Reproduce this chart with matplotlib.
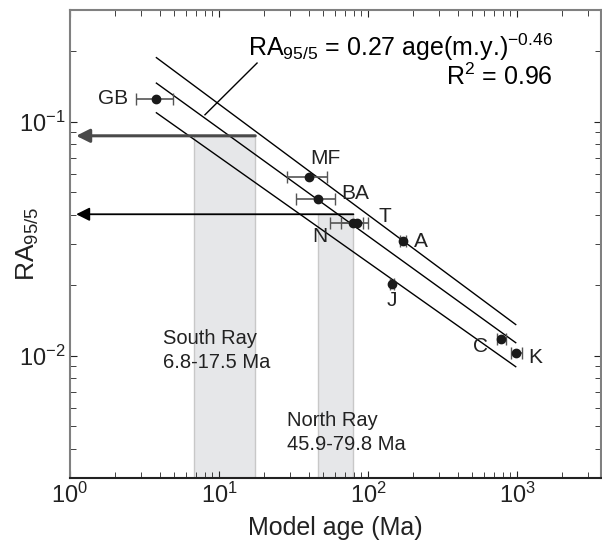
import numpy as np
import matplotlib
matplotlib.use('Agg')
import matplotlib.pyplot as plt

plt.rcParams['font.family'] = ['Liberation Sans', 'DejaVu Sans']
plt.rcParams['axes.unicode_minus'] = False
plt.rcParams['mathtext.fontset'] = 'custom'
plt.rcParams['mathtext.rm'] = 'Liberation Sans'

# sample data
names = ['GB', 'MF', 'BA', 'N', 'T', 'A', 'J', 'C', 'K']
age = [3.78, 40.4, 46.4, 79.3, 84.4, 172.6, 145, 781, 980]
age_lo = [2.77, 28.5, 32.7, 55.6, 65.9, 165, 140, 731, 907]
age_hi = [4.89, 52.8, 60.3, 92.5, 100, 180, 150, 840, 1075]
ra = [0.125, 0.0579, 0.0467, 0.037, 0.037, 0.0309, 0.0202, 0.01175, 0.01023]

# fit and bounds, RA = a * age^b
fit_range = [3.8, 980]
fit_a, fit_b = 0.27, -0.46
upper_a, upper_b = 0.353, -0.473
lower_a, lower_b = 0.199, -0.45

# crater ages (Ma) and RA level where the arrows sit
south_ray = [6.8, 17.5]
south_ra = 0.087
north_ray = [45.9, 79.8]
north_ra = 0.0402

fig = plt.figure(figsize=(6.02, 5.4), dpi=100)
ax = fig.add_axes([70 / 602, 62 / 540, 531 / 602, 468 / 540])
ax.set_xscale('log')
ax.set_yscale('log')
ax.set_xlim(1, 3660)
ax.set_ylim(0.003, 0.3)

# shaded crater age bands
band_kw = dict(facecolor='#e6e7e9', edgecolor='#c8c8c8', lw=1, zorder=0)
ax.fill_between(south_ray, 0.003, south_ra, **band_kw)
ax.fill_between(north_ray, 0.003, north_ra, **band_kw)

xs = np.logspace(np.log10(fit_range[0]), np.log10(fit_range[1]), 50)
for a, b in [(upper_a, upper_b), (fit_a, fit_b), (lower_a, lower_b)]:
    ax.plot(xs, a * xs ** b, color='black', lw=1)

# pointer from the equation to the fit line
ax.plot([18.0, 8.05], [0.178, 0.107], color='black', lw=1)

# arrows
ax.annotate('', xy=(1.1, south_ra), xytext=(south_ray[1], south_ra),
            arrowprops=dict(arrowstyle='-|>', color='#4a4a4a', lw=2.2, mutation_scale=20, shrinkA=0, shrinkB=0))
ax.annotate('', xy=(1.1, north_ra), xytext=(north_ray[1], north_ra),
            arrowprops=dict(arrowstyle='-|>', color='black', lw=1.3, mutation_scale=20, shrinkA=0, shrinkB=0))

xerr = [np.array(age) - np.array(age_lo), np.array(age_hi) - np.array(age)]
ax.errorbar(age, ra, xerr=xerr, fmt='o', color='#1a1a1a', ecolor='#555555', ms=6,
            elinewidth=1.2, capsize=4, capthick=1, zorder=3)

offsets = {'GB': (-43, 0), 'MF': (16, 19), 'BA': (37, 6), 'T': (28, 6), 'N': (-33, -14),
           'A': (18, -1), 'J': (0, -16), 'C': (-21, -7), 'K': (20, -4)}
for n, x, y in zip(names, age, ra):
    ax.annotate(n, (x, y), xytext=offsets[n], textcoords='offset pixels',
                ha='center', va='center', fontsize=15, color='#222222')

ax.text(0.91, 0.921, r'RA$_{95/5}$ = 0.27 age(m.y.)$^{-0.46}$', transform=ax.transAxes,
        ha='right', va='center', fontsize=18)
ax.text(0.91, 0.857, r'R$^2$ = 0.96', transform=ax.transAxes,
        ha='right', va='center', fontsize=18)

ax.text(4.2, 0.0105, 'South Ray\n6.8-17.5 Ma', fontsize=14.5, ha='left', va='center',
        linespacing=1.35, color='#222222')
ax.text(28.6, 0.0047, 'North Ray\n45.9-79.8 Ma', fontsize=14.5, ha='left', va='center',
        linespacing=1.35, color='#222222')

ax.set_xlabel('Model age (Ma)', fontsize=18, color='#222222', labelpad=6)
ax.set_ylabel(r'RA$_{95/5}$', fontsize=19, color='#222222')
ax.yaxis.set_label_coords(-0.055, 0.5)

for side in ['left', 'top', 'right']:
    ax.spines[side].set_color('#808080')
    ax.spines[side].set_linewidth(1.5)
ax.spines['bottom'].set_color('#222222')
ax.spines['bottom'].set_linewidth(1.5)
ax.tick_params(which='both', direction='in', top=True, right=True, labelsize=17, colors='#222222')
ax.tick_params(which='major', length=5)
ax.tick_params(which='minor', length=4)

fig.savefig('out.png', dpi=100)
